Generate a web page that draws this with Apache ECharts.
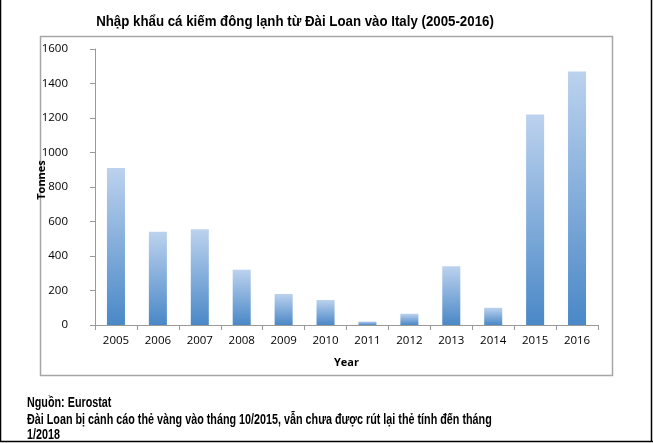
<!DOCTYPE html>
<html><head><meta charset="utf-8">
<script src="https://cdn.jsdelivr.net/npm/echarts@6/dist/echarts.min.js"></script>
<style>html,body{margin:0;padding:0;background:#fff}#c{width:653px;height:443px}</style>
</head><body><div id="c"></div>
<script>
const years = ['2005','2006','2007','2008','2009','2010','2011','2012','2013','2014','2015','2016'];
const tonnes = [910, 540, 555, 320, 180, 145, 20, 65, 340, 100, 1220, 1470];
const yTicks = [0, 200, 400, 600, 800, 1000, 1200, 1400, 1600];
const titleText = 'Nhập khẩu cá kiếm đông lạnh từ Đài Loan vào Italy (2005-2016)';
const noteLines = ['Nguồn: Eurostat', 'Đài Loan bị cảnh cáo thẻ vàng vào tháng 10/2015, vẫn chưa được rút lại thẻ tính đến tháng', '1/2018'];

const chart = echarts.init(document.getElementById('c'));
const sans = '"Liberation Sans", Arial, sans-serif';
const noteFont = 'bold 14px ' + sans;
chart.setOption({
  animation: false,
  graphic: [
    { type: 'rect', shape: { x: 40.5, y: 36.5, width: 572, height: 339 }, style: { fill: 'none', stroke: '#a6a6a6', lineWidth: 1.5 }, z: -1 },
    { type: 'line', shape: { x1: 0.5, y1: 0, x2: 0.5, y2: 441 }, style: { stroke: '#000', lineWidth: 1.5 } },
    { type: 'line', shape: { x1: 651.5, y1: 0, x2: 651.5, y2: 441 }, style: { stroke: '#000', lineWidth: 1.5 } },
    { type: 'line', shape: { x1: 0, y1: 441.5, x2: 653, y2: 441.5 }, style: { stroke: '#000', lineWidth: 1.5 } },
    { type: 'text', x: 295, y: 22, scaleX: 0.885, style: { text: titleText, font: 'bold 15px ' + sans, fill: '#000', textAlign: 'center', textVerticalAlign: 'middle' } },
    { type: 'text', x: 27, y: 403, scaleX: 0.77, style: { text: noteLines[0], font: noteFont, fill: '#000', textVerticalAlign: 'middle' } },
    { type: 'text', x: 27, y: 420, scaleX: 0.77, style: { text: noteLines[1], font: noteFont, fill: '#000', textVerticalAlign: 'middle' } },
    { type: 'text', x: 27, y: 435, scaleX: 0.77, style: { text: noteLines[2], font: noteFont, fill: '#000', textVerticalAlign: 'middle' } }
  ],
  grid: { left: 95, right: 55, top: 49, bottom: 118 },
  xAxis: {
    type: 'category', data: years,
    name: 'Year', nameLocation: 'middle', nameGap: 32, nameMoveOverlap: false,
    nameTextStyle: { fontFamily: '"Open Sans", sans-serif', fontSize: 11, fontWeight: 'bold', color: '#000' },
    axisLine: { lineStyle: { color: '#999', width: 1 } },
    axisTick: { show: true, alignWithLabel: false, length: 5, lineStyle: { color: '#999' } },
    axisLabel: { fontFamily: '"Open Sans", sans-serif', fontSize: 11.5, color: '#000', margin: 10 }
  },
  yAxis: {
    type: 'value', min: 0, max: 1600, interval: 200,
    name: 'Tonnes', nameLocation: 'middle', nameGap: 48, nameMoveOverlap: false,
    nameTextStyle: { fontFamily: '"Open Sans", sans-serif', fontSize: 11, fontWeight: 'bold', color: '#000', padding: [0, 0, 0, 14] },
    axisLine: { show: true, lineStyle: { color: '#999', width: 1 } },
    axisTick: { show: true, length: 5, lineStyle: { color: '#999' } },
    splitLine: { show: false },
    axisLabel: { fontFamily: '"Open Sans", sans-serif', fontSize: 11.5, color: '#000', margin: 27,
      formatter: v => yTicks.includes(v) ? String(v) : '' }
  },
  series: [{
    type: 'bar', data: tonnes, barWidth: '43%',
    itemStyle: { color: new echarts.graphic.LinearGradient(0, 0, 0, 1, [
      { offset: 0, color: '#bcd2ee' }, { offset: 1, color: '#4a88c7' }]) }
  }]
});
</script></body></html>
